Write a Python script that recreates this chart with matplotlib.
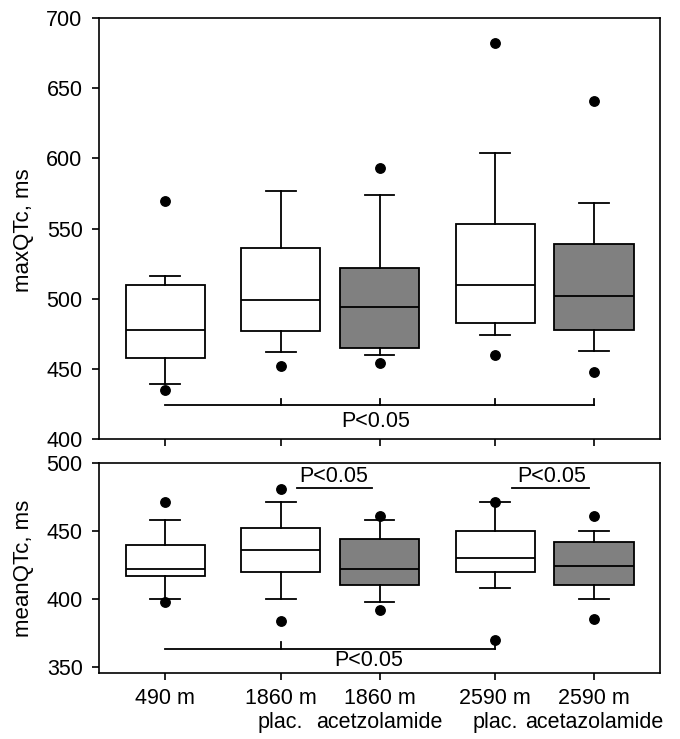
import matplotlib as mpl
mpl.use('Agg')
import matplotlib.pyplot as plt

plt.rcParams['font.family'] = ['Liberation Sans', 'DejaVu Sans']

# group labels and box positions on the x axis
labels = ['490 m', '1860 m\nplac.', '1860 m\nacetzolamide', '2590 m\nplac.', '2590 m\nacetazolamide']
positions = [1.0, 2.75, 4.25, 6.0, 7.5]
fills = ['white', 'white', '#808080', 'white', '#808080']

# maxQTc, ms : whisker low, q1, median, q3, whisker high, outliers
max_lo = [439, 462, 460, 474, 463]
max_q1 = [458, 477, 465, 483, 478]
max_med = [478, 499, 494, 510, 502]
max_q3 = [510, 536, 522, 553, 539]
max_hi = [516, 577, 574, 604, 568]
max_out = [[570, 435], [452], [593, 454], [682, 460], [641, 448]]

# meanQTc, ms
mean_lo = [400, 400, 398, 408, 400]
mean_q1 = [416.5, 420, 410, 420, 410]
mean_med = [422, 436, 422, 430, 424]
mean_q3 = [440, 452, 444, 450, 442]
mean_hi = [458, 471, 458, 471, 450]
mean_out = [[471, 398], [481, 384], [461, 392], [471, 370], [461, 385]]

FS = 15.5


def make_stats(lo, q1, med, q3, hi, out):
    stats = []
    for i in range(len(lo)):
        stats.append({'whislo': lo[i], 'q1': q1[i], 'med': med[i],
                      'q3': q3[i], 'whishi': hi[i], 'fliers': out[i]})
    return stats


def draw(ax, stats):
    b = ax.bxp(stats, positions=positions, widths=1.2, capwidths=0.45,
               patch_artist=True, manage_ticks=False,
               boxprops=dict(linewidth=1.3, edgecolor='black'),
               medianprops=dict(color='black', linewidth=1.3),
               whiskerprops=dict(color='black', linewidth=1.3),
               capprops=dict(color='black', linewidth=1.3),
               flierprops=dict(marker='o', markerfacecolor='black',
                               markeredgecolor='black', markersize=6.8))
    for patch, c in zip(b['boxes'], fills):
        patch.set_facecolor(c)
    ax.set_xlim(0, 8.5)
    ax.set_xticks(positions)
    ax.tick_params(axis='both', direction='out', length=5, width=1.2,
                   labelsize=FS, right=False, top=False)
    ax.tick_params(axis='y', pad=7)
    ax.tick_params(axis='x', pad=6)
    for s in ax.spines.values():
        s.set_linewidth(1.2)


fig = plt.figure(figsize=(6.8, 7.39), dpi=100)
ax1 = fig.add_axes([0.146, 0.406, 0.8246, 0.5694])
ax2 = fig.add_axes([0.146, 0.0893, 0.8246, 0.2842])

draw(ax1, make_stats(max_lo, max_q1, max_med, max_q3, max_hi, max_out))
ax1.set_ylim(400, 700)
ax1.set_yticks([400, 450, 500, 550, 600, 650, 700])
ax1.set_xticklabels([])

draw(ax2, make_stats(mean_lo, mean_q1, mean_med, mean_q3, mean_hi, mean_out))
ax2.set_ylim(345.5, 500)
ax2.set_yticks([350, 400, 450, 500])
ax2.set_xticklabels(labels, fontsize=FS)

lw = 1.3
# significance bracket, top panel
ax1.plot([positions[0], positions[4]], [424, 424], color='black', lw=lw)
for p in positions[1:]:
    ax1.plot([p, p], [424, 428.5], color='black', lw=lw)
ax1.text(4.19, 412.6, 'P<0.05', ha='center', va='center', fontsize=FS)

# significance brackets, bottom panel
ax2.plot([positions[0], positions[3]], [363.3, 363.3], color='black', lw=lw)
ax2.plot([positions[1], positions[1]], [363.3, 368], color='black', lw=lw)
ax2.plot([positions[3], positions[3]], [363.3, 368], color='black', lw=lw)
ax2.text(4.08, 354.4, 'P<0.05', ha='center', va='center', fontsize=FS)

ax2.plot([2.99, 4.13], [481.3, 481.3], color='black', lw=lw)
ax2.text(3.56, 490, 'P<0.05', ha='center', va='center', fontsize=FS)
ax2.plot([6.26, 7.42], [481.3, 481.3], color='black', lw=lw)
ax2.text(6.86, 490, 'P<0.05', ha='center', va='center', fontsize=FS)

fig.text(23 / 680, 1 - 230 / 739, 'maxQTc, ms', rotation=90,
         ha='center', va='center', fontsize=16)
fig.text(23 / 680, 1 - 568 / 739, 'meanQTc, ms', rotation=90,
         ha='center', va='center', fontsize=16)

fig.savefig('out.png', dpi=100)
